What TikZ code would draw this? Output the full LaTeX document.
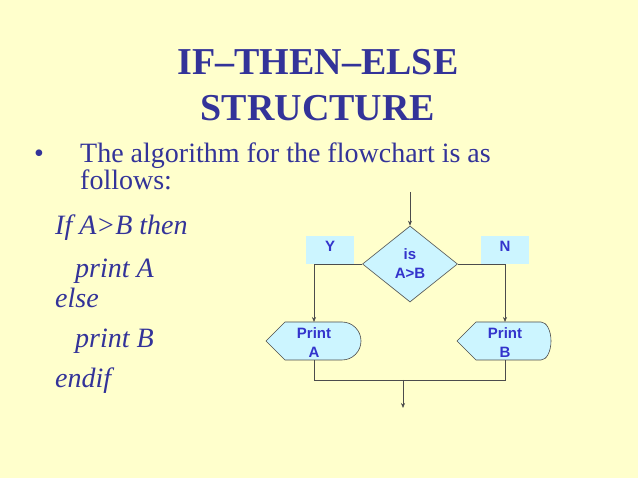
\documentclass[tikz,border=0pt]{standalone}
\usepackage{fontspec}
\setmainfont{Liberation Serif}
\newfontfamily\arial{Liberation Sans}
\usetikzlibrary{shapes.geometric,arrows.meta}
\definecolor{bg}{HTML}{FFFFCC}
\definecolor{ttl}{HTML}{333399}
\definecolor{shp}{HTML}{CCF5FF}
\definecolor{stxt}{HTML}{3333CC}
\begin{document}
\begin{tikzpicture}[x=1pt,y=-1pt,
  lbl/.style={font=\arial\bfseries\fontsize{15}{19}\selectfont,text=stxt,align=center},
  flow/.style={draw=black!70,line width=0.6pt},
  arr/.style={flow,-{Stealth[length=5pt,width=4pt]}},
  body/.style={anchor=base west,inner sep=0pt,text=ttl,font=\fontsize{28}{30}\selectfont},
  ital/.style={body,font=\itshape\fontsize{28}{30}\selectfont}]
\fill[bg] (0,0) rectangle (638,478);
\useasboundingbox (0,0) rectangle (638,478);
\node[text=ttl,font=\bfseries\fontsize{38}{46}\selectfont,align=center] (title) at (318,85) {IF–THEN–ELSE\\STRUCTURE};
\node[body] (b1) at (34,163) {\textbullet};
\node[body] (t1) at (80,163) {The algorithm for the flowchart is as};
\node[body] (t2) at (80,190) {follows:};
\node[ital] (c1) at (55,235) {If A>B then};
\node[ital] (c2) at (75,278) {print A};
\node[ital] (c3) at (55,308) {else};
\node[ital] (c4) at (75,348) {print B};
\node[ital] (c5) at (55,388) {endif};
% shapes
\fill[shp] (306,236) rectangle (354,264);
\node[lbl] (Y) at (330,246) {Y};
\fill[shp] (481,236) rectangle (529,264);
\node[lbl] (N) at (505,246) {N};
\coordinate (top) at (410,192);
\node[diamond,fill=shp,draw=black!70,line width=0.6pt,minimum width=95pt,minimum height=76pt,inner sep=0pt,lbl] (d) at (410,264) {is\\A>B};
\draw[arr] (top) -- (d.north);
\draw[fill=shp,draw=black!70,line width=0.6pt] (266,341) -- (285,322) -- (342,322) arc[start angle=-90,end angle=90,radius=19] -- (285,360) -- cycle;
\node[lbl,inner sep=0pt] (pa) at (314,343) {Print\\A};
\draw[fill=shp,draw=black!70,line width=0.6pt] (457,341) -- (476,322) -- (541,322) arc[start angle=-90,end angle=90,x radius=10,y radius=19] -- (476,360) -- cycle;
\node[lbl,inner sep=0pt] (pb) at (505,343) {Print\\B};
\coordinate (pat) at (314,322);
\coordinate (pbt) at (505,322);
\draw[arr] (d.west) -- (314,264) -- (pat);
\draw[arr] (d.east) -- (505,264) -- (pbt);
\coordinate (j) at (403,380);
\coordinate (e) at (403,408);
\draw[flow] (314,360) -- (314,380) -- (505,380) -- (505,360);
\draw[arr] (j) -- (e);
\end{tikzpicture}
\end{document}
